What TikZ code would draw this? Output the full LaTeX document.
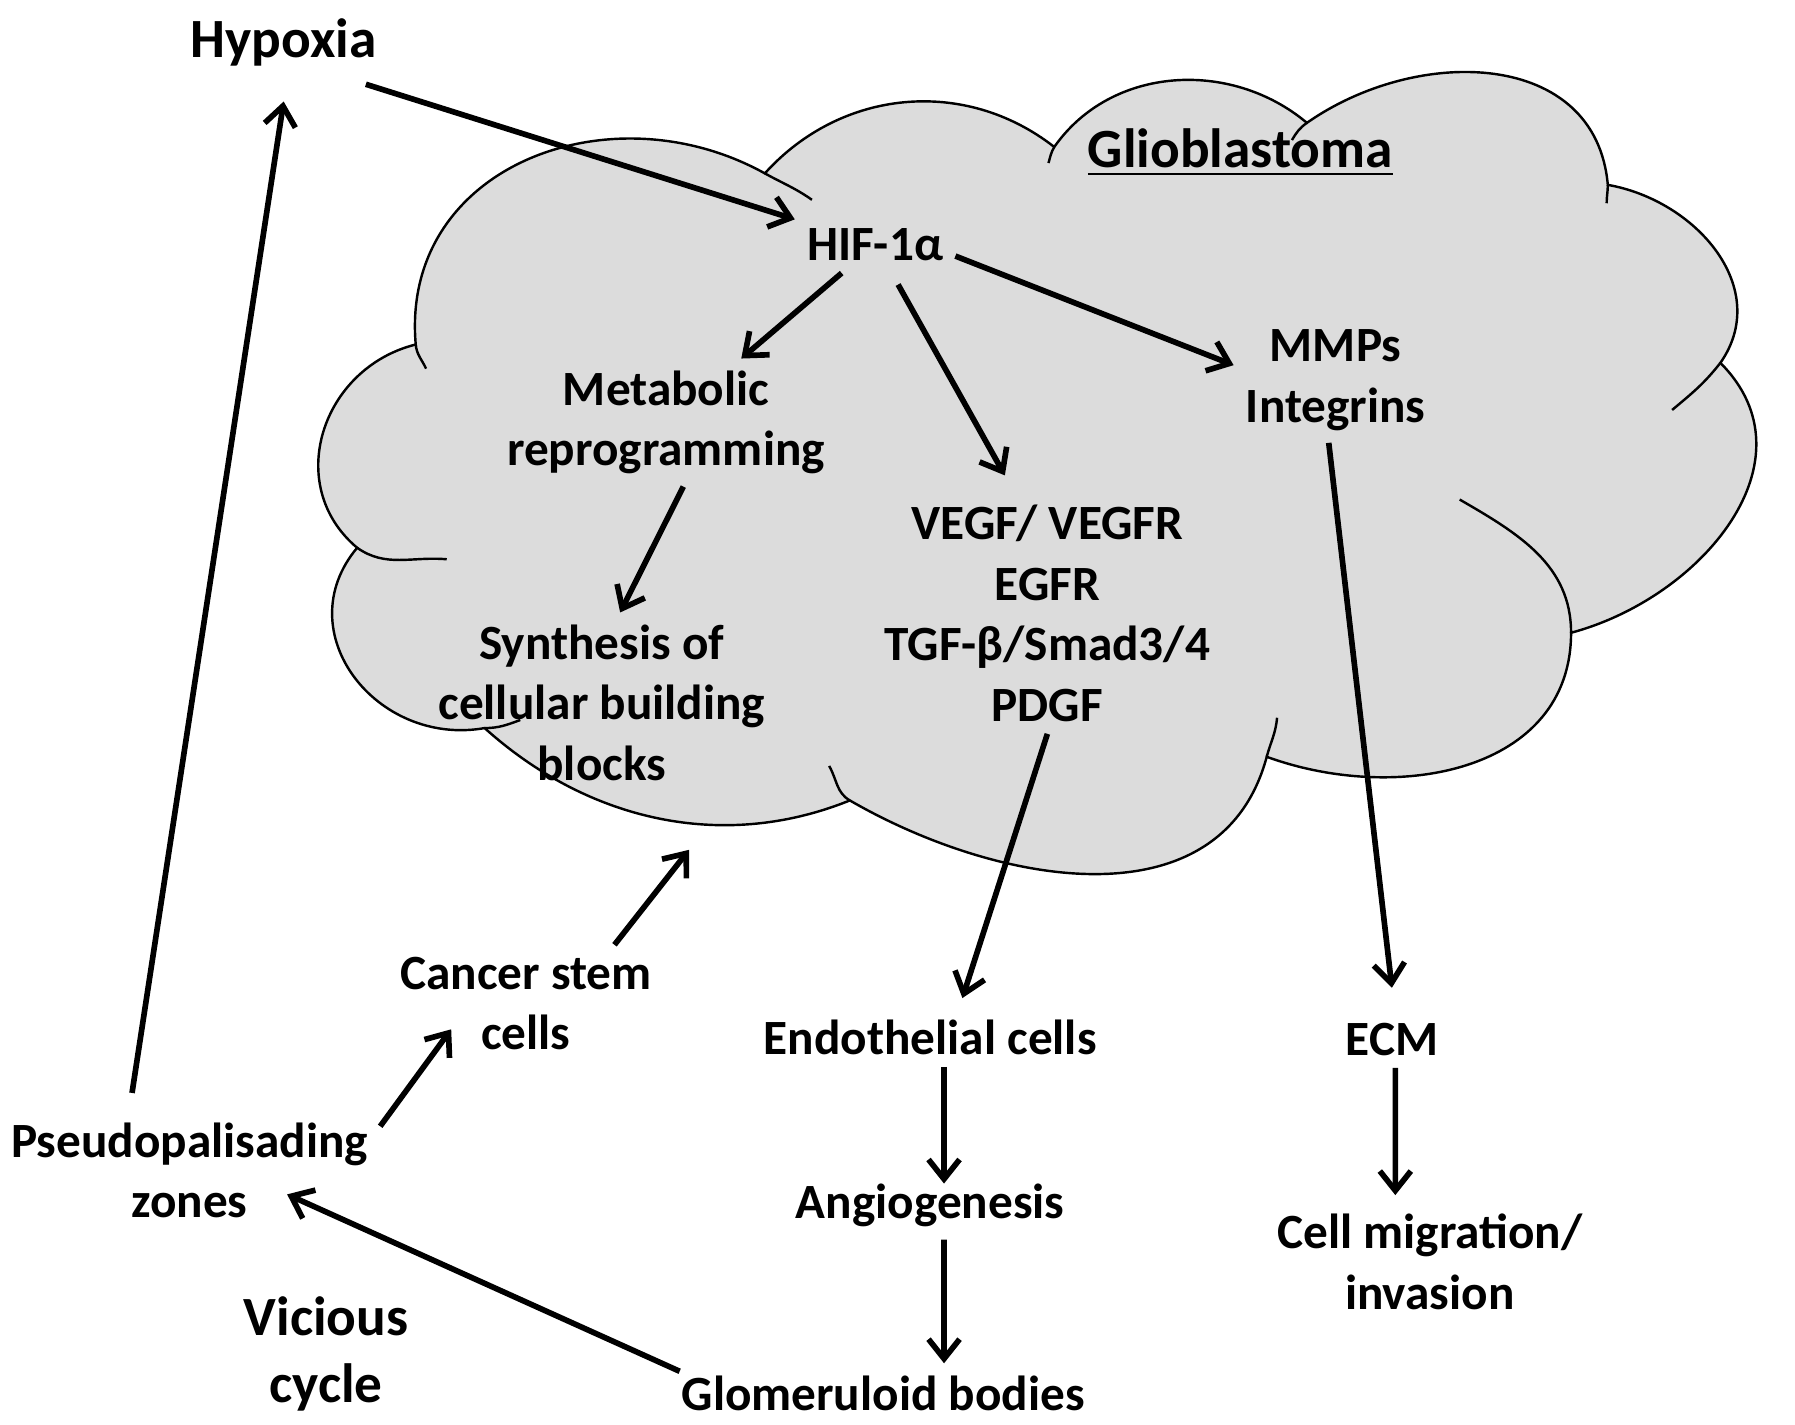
\documentclass[tikz,border=0pt]{standalone}
\usepackage{fontspec}
\setmainfont{Carlito}
\usetikzlibrary{arrows.meta}
\definecolor{cloudgray}{RGB}{220,220,220}

\begin{document}
\begin{tikzpicture}[x=0.01cm, y=0.01cm]
		\tikzstyle{every node}=[align=center, inner sep=1mm, font=\fontsize{12.2}{15}\selectfont\bfseries]
		\tikzstyle{big}=[font=\fontsize{13.7}{16.5}\selectfont\bfseries]
		\tikzstyle{arr}=[-{Straight Barb[length=1.7mm,width=2.7mm]}, line width=1.4pt]
		\tikzstyle{lobe}=[line width=0.6pt]
		\useasboundingbox (0,0) rectangle (1563,1240);

		% cloud
		\draw [lobe, fill=cloudgray] (362,940)
			to[out=95,in=151,looseness=1.17] (666,1089)
			to[out=48,in=142,looseness=1.0] (918,1112)
			to[out=55,in=140,looseness=1.0] (1138,1133)
			to[out=35,in=95,looseness=1.13] (1400,1079)
			to[out=-10,in=55,looseness=1.1] (1498,924)
			to[out=-45,in=15,looseness=1.13] (1368,689)
			to[out=-90,in=-20,looseness=1.08] (1103,581)
			to[out=-105,in=-30,looseness=1.06] (740,543)
			to[out=-158,in=-42,looseness=0.95] (422,606)
			to[out=190,in=-130,looseness=1.27] (311,763)
			to[out=140,in=194,looseness=1.17] cycle;
		\draw [lobe] (666,1089) to[out=-29,in=145] (707,1066);
		\draw [lobe] (362,940) to[out=-85,in=115] (371,919);
		\draw [lobe] (311,763) to[out=-35,in=175] (389,753);
		\draw [lobe] (422,606) to[out=0,in=200] (453,613);
		\draw [lobe] (740,543) to[out=150,in=-60] (722,573);
		\draw [lobe] (1103,581) to[out=75,in=-95] (1112,615);
		\draw [lobe] (1368,689) to[out=90,in=-30] (1271,805);
		\draw [lobe] (1498,924) to[out=-128,in=40] (1456,883);
		\draw [lobe] (1400,1079) to[out=-90,in=90] (1399,1063);
		\draw [lobe] (1138,1133) to[out=-145,in=60] (1125,1118);
		\draw [lobe] (918,1112) to[out=-120,in=75] (913,1098);

		\node [big] (hypoxia) at (247, 1203) {Hypoxia};
		\node [big] (glio) at (1080, 1107) {\underline{Glioblastoma}};
		\node (hif) at (762, 1027) {HIF-1α};
		\node (meta) at (580, 872) {Metabolic\\reprogramming};
		\node (mmp) at (1163, 909) {MMPs\\Integrins};
		\node (vegf) at (912, 706) {VEGF/ VEGFR\\EGFR\\TGF-β/Smad3/4\\PDGF};
		\node (synth) at (524, 628) {Synthesis of\\cellular building\\blocks};
		\node (csc) at (458, 366) {Cancer stem\\cells};
		\node (endo) at (810, 337) {Endothelial cells};
		\node (ecm) at (1212, 335) {ECM};
		\node (pseudo) at (165, 221) {Pseudopalisading\\zones};
		\node (angio) at (810, 190) {Angiogenesis};
		\node (migr) at (1245, 141) {Cell migration/\\invasion};
		\node [big] (vicious) at (284, 61) {Vicious\\cycle};
		\node (glom) at (769, 27) {Glomeruloid bodies};
		\coordinate (cloudbase) at (600, 500);

		\draw [arr] ([xshift=-2mm,yshift=-0.5mm]hypoxia.south east) -- (hif);
		\draw [arr] ([xshift=-5mm,yshift=1.5mm]pseudo.north) -- ([yshift=-2mm]hypoxia.south);
		\draw [arr] (hif) -- (meta);
		\draw [arr] ([xshift=2mm,yshift=-1mm]hif.south) -- ([xshift=-3.7mm,yshift=1.5mm]vegf.north);
		\draw [arr] ([yshift=-1mm]hif.east) -- ([yshift=1.3mm]mmp.west);
		\draw [arr] ([xshift=1.5mm]meta.south) -- ([xshift=1.6mm]synth.north);
		\draw [arr] ([xshift=-0.6mm]mmp.south) -- ([yshift=2mm]ecm.north);
		\draw [arr] (vegf.south) -- ([xshift=2.8mm,yshift=0.8mm]endo.north);
		\draw [arr] ([xshift=7.7mm]csc.north) -- (cloudbase);
		\draw [arr] ([yshift=-1.4mm]pseudo.north east) -- ([xshift=5.5mm,yshift=2.9mm]csc.south west);
		\draw [arr] ([xshift=1.2mm]endo.south) -- ([xshift=1.2mm,yshift=-1mm]angio.north);
		\draw [arr] ([xshift=1.2mm]angio.south) -- ([xshift=5.3mm]glom.north);
		\draw [arr] ([xshift=0.3mm]ecm.south) -- ([xshift=-3mm,yshift=0.6mm]migr.north);
		\draw [arr] ([xshift=0.9mm,yshift=-0.7mm]glom.north west) -- ([xshift=-8.1mm,yshift=-2.1mm]pseudo.east);
	\end{tikzpicture}
\end{document}
